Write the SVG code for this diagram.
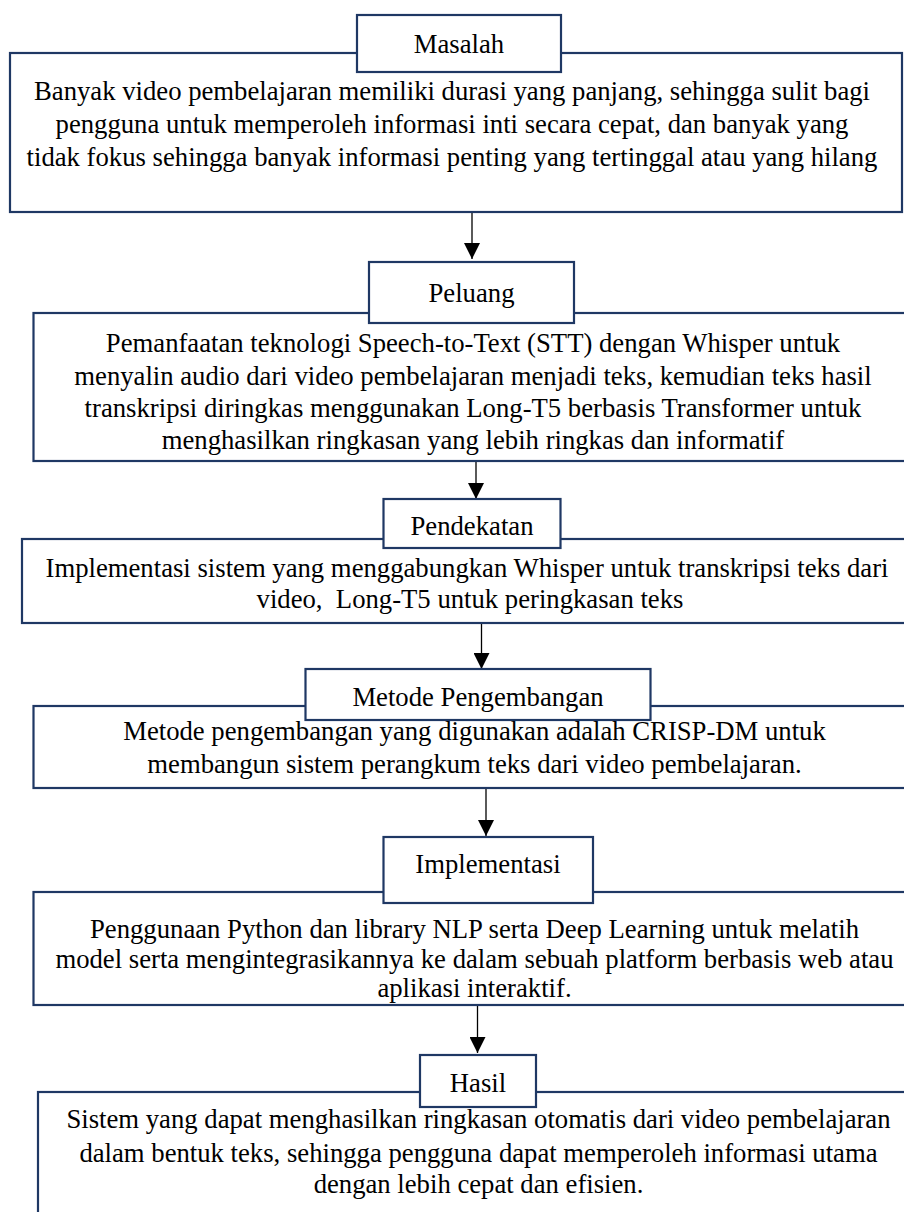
<svg xmlns="http://www.w3.org/2000/svg" width="904" height="1212" viewBox="0 0 904 1212">
<defs>
<style>
.box{fill:#ffffff;stroke:#1f3864;stroke-width:2.2}
.lbl{fill:#ffffff;stroke:#1f3864;stroke-width:2.2}
.t{font-family:"Liberation Serif","Times New Roman",serif;font-size:26.7px;fill:#000000;text-anchor:middle}
.conn{stroke:#000000;stroke-width:1.3;fill:none;marker-end:url(#ah)}
</style>
<marker id="ah" markerUnits="userSpaceOnUse" markerWidth="16" markerHeight="16" refX="16" refY="8" orient="auto">
<path d="M0,0 L16,8 L0,16 z" fill="#000000"/>
</marker>
</defs>
<rect width="904" height="1212" fill="#ffffff"/>

<g id="connectors">
<line class="conn" x1="472" y1="212" x2="472" y2="259"/>
<line class="conn" x1="476" y1="461" x2="476" y2="499"/>
<line class="conn" x1="481.5" y1="623" x2="481.5" y2="669"/>
<line class="conn" x1="486" y1="788" x2="486" y2="836"/>
<line class="conn" x1="477.5" y1="1005" x2="477.5" y2="1053"/>
</g>

<g id="masalah">
<rect class="box" x="10" y="53" width="892" height="159"/>
<rect class="lbl" x="357" y="15" width="204" height="57"/>
<text class="t" x="459" y="53">Masalah</text>
<text class="t" x="452" y="100">Banyak video pembelajaran memiliki durasi yang panjang, sehingga sulit bagi</text>
<text class="t" x="452" y="133">pengguna untuk memperoleh informasi inti secara cepat, dan banyak yang</text>
<text class="t" x="452" y="166">tidak fokus sehingga banyak informasi penting yang tertinggal atau yang hilang</text>
</g>

<g id="peluang">
<rect class="box" x="33.5" y="313" width="880" height="148"/>
<rect class="lbl" x="369" y="262" width="205" height="61"/>
<text class="t" x="471.5" y="302">Peluang</text>
<text class="t" x="473" y="352">Pemanfaatan teknologi Speech-to-Text (STT) dengan Whisper untuk</text>
<text class="t" x="473" y="385">menyalin audio dari video pembelajaran menjadi teks, kemudian teks hasil</text>
<text class="t" x="473" y="417">transkripsi diringkas menggunakan Long-T5 berbasis Transformer untuk</text>
<text class="t" x="473" y="449">menghasilkan ringkasan yang lebih ringkas dan informatif</text>
</g>

<g id="pendekatan">
<rect class="box" x="22" y="539" width="890" height="84"/>
<rect class="lbl" x="383.5" y="499" width="177" height="49"/>
<text class="t" x="472" y="535">Pendekatan</text>
<text class="t" x="467" y="577">Implementasi sistem yang menggabungkan Whisper untuk transkripsi teks dari</text>
<text class="t" x="470" y="608" xml:space="preserve">video,  Long-T5 untuk peringkasan teks</text>
</g>

<g id="metode">
<rect class="box" x="33.5" y="706" width="880" height="82"/>
<rect class="lbl" x="305.5" y="669" width="345" height="51"/>
<text class="t" x="478" y="706">Metode Pengembangan</text>
<text class="t" x="474.5" y="740">Metode pengembangan yang digunakan adalah CRISP-DM untuk</text>
<text class="t" x="474.5" y="773">membangun sistem perangkum teks dari video pembelajaran.</text>
</g>

<g id="implementasi">
<rect class="box" x="33.5" y="892" width="880" height="113"/>
<rect class="lbl" x="383.5" y="837" width="209.5" height="66"/>
<text class="t" x="488" y="873">Implementasi</text>
<text class="t" x="474.5" y="938">Penggunaan Python dan library NLP serta Deep Learning untuk melatih</text>
<text class="t" x="474.5" y="968">model serta mengintegrasikannya ke dalam sebuah platform berbasis web atau</text>
<text class="t" x="474.5" y="997">aplikasi interaktif.</text>
</g>

<g id="hasil">
<rect class="box" x="38" y="1092" width="880" height="140"/>
<rect class="lbl" x="420" y="1055" width="116" height="52"/>
<text class="t" x="478" y="1092">Hasil</text>
<text class="t" x="478.5" y="1128">Sistem yang dapat menghasilkan ringkasan otomatis dari video pembelajaran</text>
<text class="t" x="478.5" y="1162">dalam bentuk teks, sehingga pengguna dapat memperoleh informasi utama</text>
<text class="t" x="478.5" y="1193">dengan lebih cepat dan efisien.</text>
</g>
</svg>
